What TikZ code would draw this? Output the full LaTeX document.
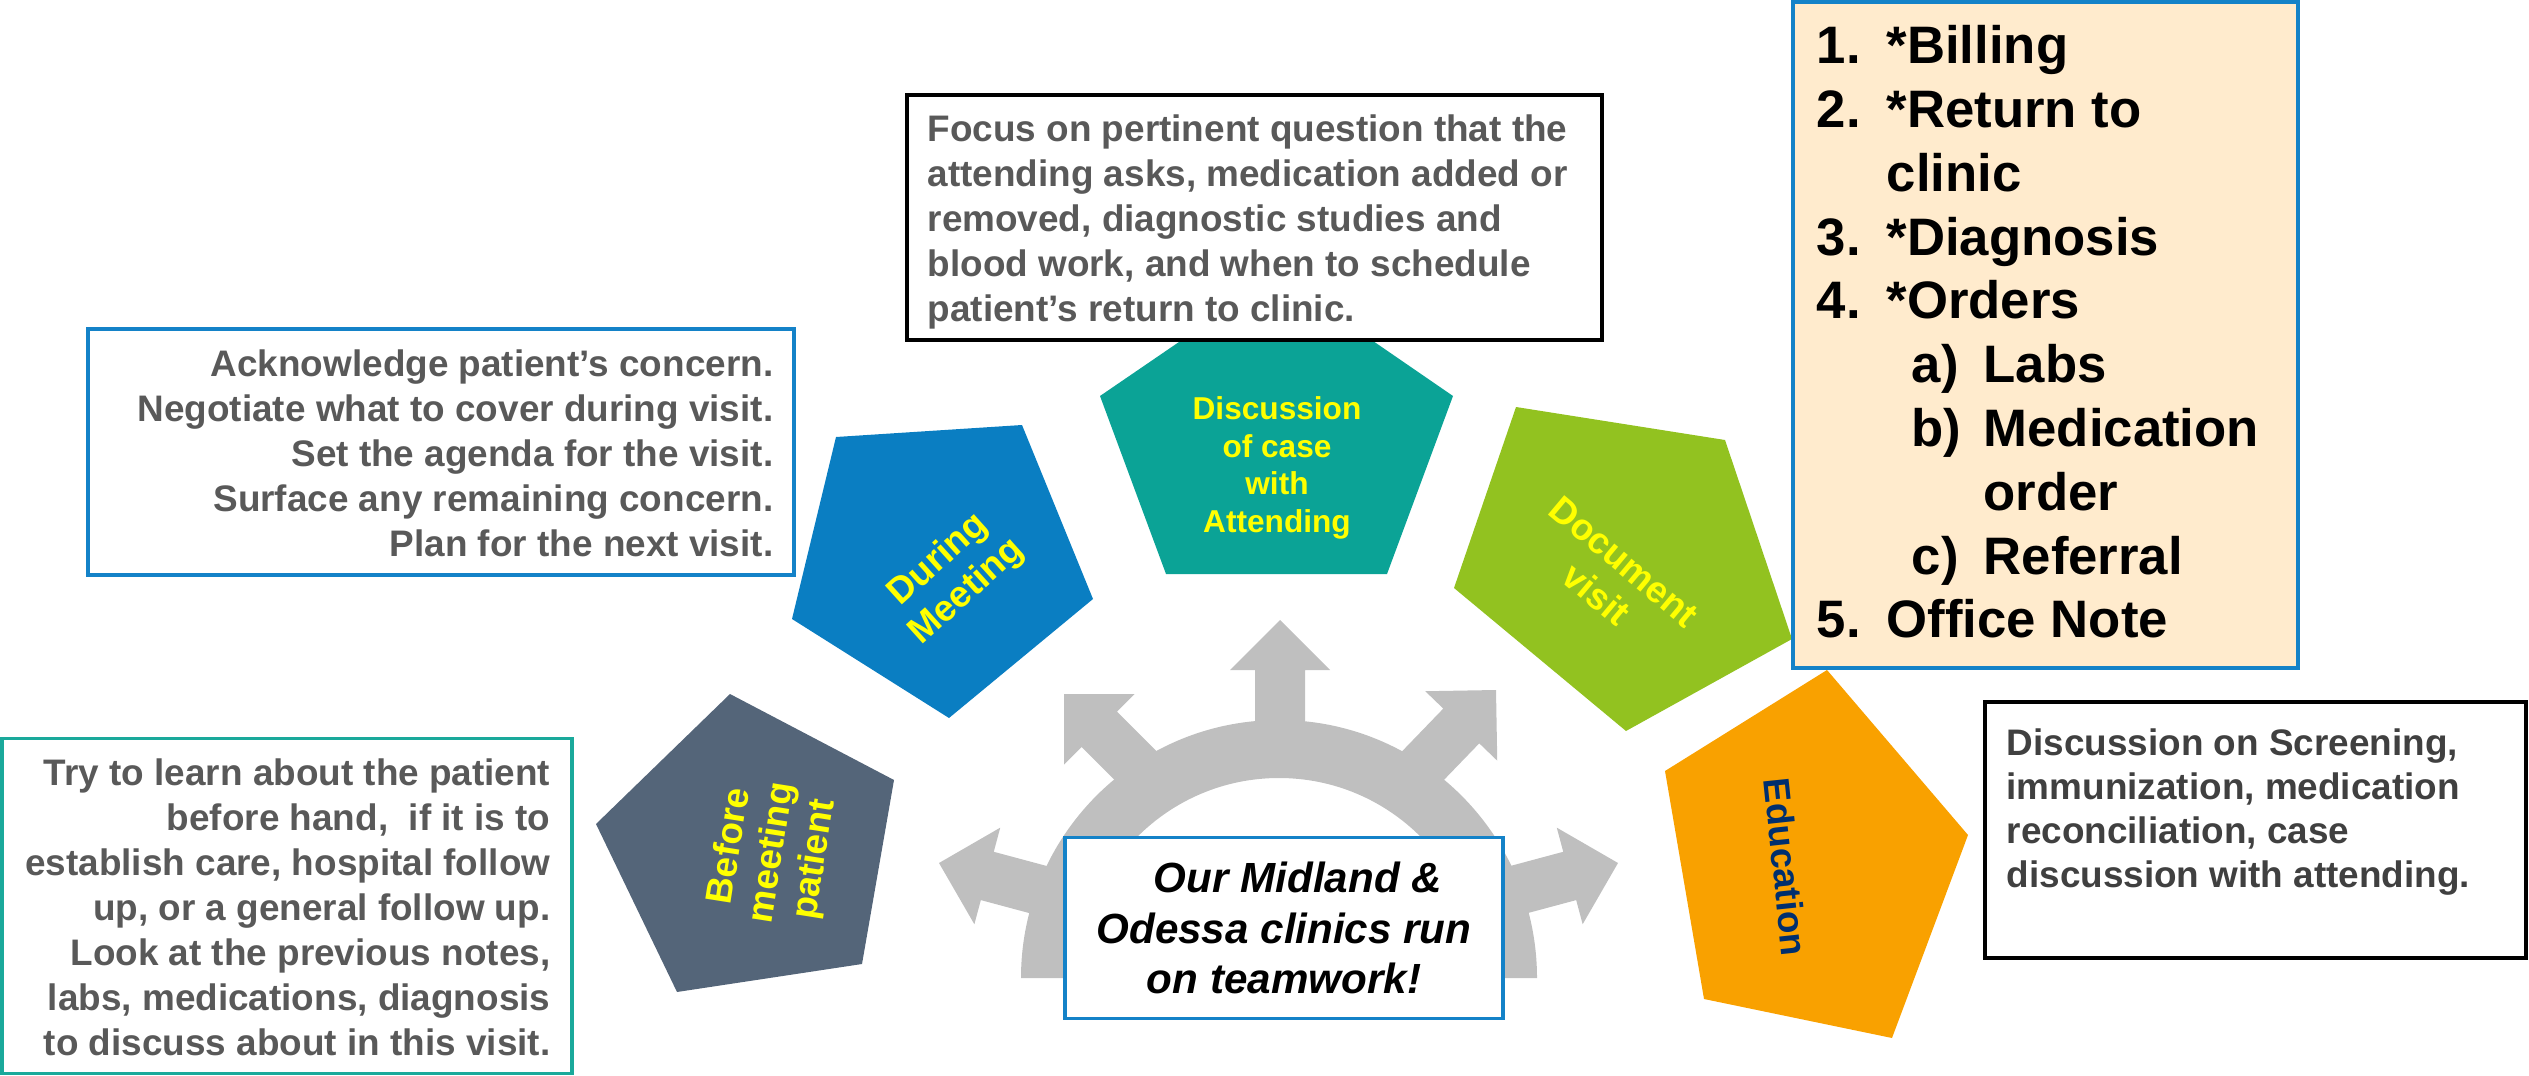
\documentclass[tikz,border=0pt]{standalone}
\usepackage{fontspec}
\setmainfont{Liberation Sans}

\definecolor{slate}{HTML}{546579}
\definecolor{meetblue}{HTML}{0A7EC2}
\definecolor{caseteal}{HTML}{0BA396}
\definecolor{docgreen}{HTML}{92C220}
\definecolor{eduorange}{HTML}{F9A100}
\definecolor{gearfill}{HTML}{BFBFBF}
\definecolor{notegray}{HTML}{595959}
\definecolor{notedark}{HTML}{404040}
\definecolor{tagyellow}{HTML}{FFFF00}
\definecolor{edunavy}{HTML}{002F6E}
\definecolor{listfill}{HTML}{FFEBCD}
\definecolor{frameblue}{HTML}{1482C8}
\definecolor{frameteal}{HTML}{1AA99B}

\tikzset{
  frame/.style={draw, line width=0.9pt, inner sep=0pt},
  note/.style={font=\fontsize{10.5}{12.8}\selectfont\bfseries, text=notegray, inner sep=0pt},
  tag/.style={font=\fontsize{10.5}{12.2}\selectfont\bfseries, text=tagyellow, align=center, inner sep=0pt},
}

\begin{document}
\begin{tikzpicture}[x=0.1mm, y=-0.1mm]
      \useasboundingbox (0,0) rectangle (2529,1076);

      % the five steps
      \fill[slate] (730,694) -- (894,780) -- (862,964) -- (677,992) -- (596,824) -- cycle;
      \fill[meetblue] (836,437) -- (1022,425) -- (1093,599) -- (949,718) -- (792,619) -- cycle;
      \fill[caseteal] (1277,275) -- (1453,396) -- (1387,574) -- (1166,574) -- (1100,396) -- cycle;
      \fill[docgreen] (1516,407) -- (1725,440) -- (1792,639) -- (1626,731) -- (1454,588) -- cycle;
      \fill[eduorange] (1827,670) -- (1968,835) -- (1892,1038) -- (1704,999) -- (1665,771) -- cycle;

      \node[tag, rotate=81] (before) at (773,853) {Before\\meeting\\patient};
      \node[tag, rotate=42] (during) at (953,576) {During\\Meeting};
      \node[tag, font=\fontsize{9}{10.7}\selectfont\bfseries] (discuss) at (1277,468)
      {Discussion\\of case\\with\\Attending};
      \node[tag, rotate=-40] (document) at (1610,578) {Document\\visit};
      \node[tag, text=edunavy, rotate=-84] (education) at (1786,867) {Education};

      % half wheel with its five arrows
      \fill[gearfill] (1021,978) arc[start angle=180, end angle=360, radius=258]
      -- (1479,978) arc[start angle=0, end angle=-180, radius=200] -- cycle;
      \fill[gearfill, shift={(939,863)}, rotate=165]
      (0,0) -- (-50,50) -- (-50,25) -- (-150,25) -- (-150,-25) -- (-50,-25) -- (-50,-50) -- cycle;
      \fill[gearfill, shift={(1064,694)}, rotate=135]
      (0,0) -- (-50,50) -- (-50,25) -- (-150,25) -- (-150,-25) -- (-50,-25) -- (-50,-50) -- cycle;
      \fill[gearfill, shift={(1280,620)}, rotate=90]
      (0,0) -- (-50,50) -- (-50,25) -- (-150,25) -- (-150,-25) -- (-50,-25) -- (-50,-50) -- cycle;
      \fill[gearfill, shift={(1496,690)}, rotate=46]
      (0,0) -- (-50,50) -- (-50,25) -- (-150,25) -- (-150,-25) -- (-50,-25) -- (-50,-50) -- cycle;
      \fill[gearfill, shift={(1618,863)}, rotate=15]
      (0,0) -- (-50,50) -- (-50,25) -- (-150,25) -- (-150,-25) -- (-50,-25) -- (-50,-50) -- cycle;

      \node[frame, draw=frameblue, fill=white, minimum width=43.8mm, minimum height=18.1mm,
      align=center, font=\fontsize{12}{14.3}\selectfont\bfseries\itshape] (team) at (1284,928)
      {\hspace*{2.8mm}Our Midland \&\\Odessa clinics run\\on teamwork!};

      % notes around the wheel
      \node[frame, draw=frameblue, minimum width=70.6mm, minimum height=24.6mm] (ackbox) at (441,452) {};
      \node[note, align=right, anchor=east] (acktext) at (774,453)
      {Acknowledge patient’s concern.\\Negotiate what to cover during visit.\\Set the agenda for the visit.\\
      Surface any remaining concern.\\Plan for the next visit.};

      \node[frame, draw=frameteal, minimum width=57mm, minimum height=33.5mm] (learnbox) at (287,906) {};
      \node[note, align=right, anchor=east] (learntext) at (551,907)
      {Try to learn about the patient\\before hand,\ \ if it is to\\establish care, hospital follow\\
      up, or a general follow up.\\Look at the previous notes,\\labs, medications, diagnosis\\
      to discuss about in this visit.};

      \node[frame, draw=black, fill=white, minimum width=69.5mm, minimum height=24.5mm] (focusbox) at (1254.5,217.5) {};
      \node[note, align=left, anchor=west] (focustext) at (927,222)
      {Focus on pertinent question that the\\attending asks, medication added or\\
      removed, diagnostic studies and\\blood work, and when to schedule\\patient’s return to clinic.};

      \node[frame, draw=frameblue, fill=listfill, minimum width=50.5mm, minimum height=66.6mm] (orderbox) at (2045.5,335) {};
      \node[inner sep=0pt, align=left, anchor=west, font=\fontsize{15}{18.15}\selectfont\bfseries] (ordertext) at (1816,332)
      {\makebox[7mm][l]{1.}*Billing\\
      \makebox[7mm][l]{2.}*Return to\\
      \hspace*{7mm}clinic\\
      \makebox[7mm][l]{3.}*Diagnosis\\
      \makebox[7mm][l]{4.}*Orders\\
      \hspace*{9.5mm}\makebox[7.2mm][l]{a)}Labs\\
      \hspace*{9.5mm}\makebox[7.2mm][l]{b)}Medication\\
      \hspace*{16.7mm}order\\
      \hspace*{9.5mm}\makebox[7.2mm][l]{c)}Referral\\
      \makebox[7mm][l]{5.}Office Note};

      \node[frame, draw=black, minimum width=54.1mm, minimum height=25.6mm] (screenbox) at (2255.5,830) {};
      \node[note, text=notedark, align=left, anchor=west, font=\fontsize{10.5}{12.5}\selectfont\bfseries] (screentext) at (2006,812)
      {Discussion on Screening,\\immunization, medication\\reconciliation, case\\discussion with attending.};
\end{tikzpicture}
\end{document}
